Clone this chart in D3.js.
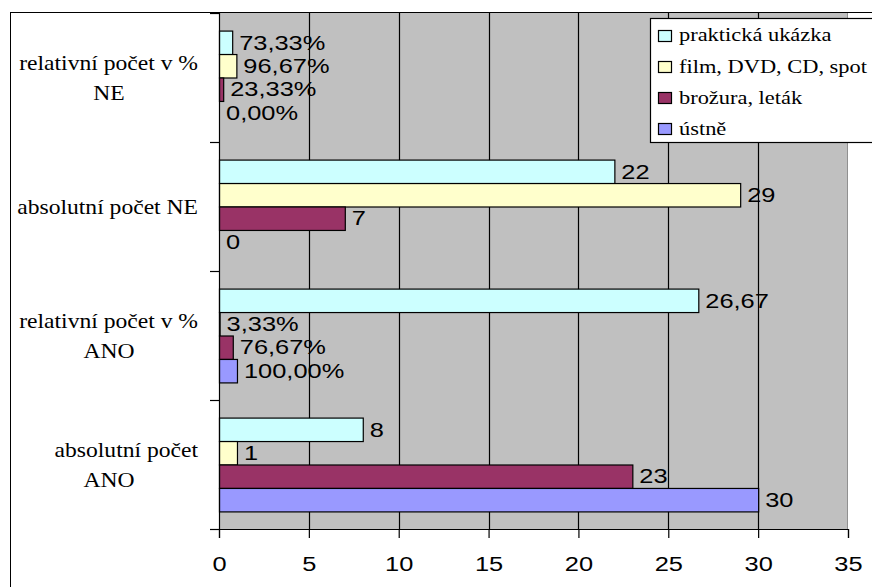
<!DOCTYPE html>
<html>
<head>
<meta charset="utf-8">
<script src="https://cdn.jsdelivr.net/npm/d3@7"></script>
<style>
  html, body { margin: 0; padding: 0; background: #fff; }
  svg { display: block; }
</style>
</head>
<body>
<svg id="chart" width="872" height="587"></svg>
<script>
// Categories, listed top to bottom as they appear on the vertical axis
const categories = [
  ["relativní počet v %", "NE"],
  ["absolutní počet NE"],
  ["relativní počet v %", "ANO"],
  ["absolutní počet", "ANO"]
];

// Series, listed top to bottom within each category group
const seriesNames = ["praktická ukázka", "film, DVD, CD, spot", "brožura, leták", "ústně"];
const seriesColors = ["#CCFFFF", "#FFFFCC", "#993366", "#9999FF"];

// Values per series, in the same category order as above
const praktickaValues = [0.7333, 22, 26.67, 8];
const filmValues      = [0.9667, 29, 0.0333, 1];
const brozuraValues   = [0.2333, 7, 0.7667, 23];
const ustneValues     = [0, 0, 1, 30];

// Number format of each value label: "pct" = percentage, "num" = plain number
const praktickaFormats = ["pct", "num", "num", "num"];
const filmFormats      = ["pct", "num", "pct", "num"];
const brozuraFormats   = ["pct", "num", "pct", "num"];
const ustneFormats     = ["pct", "num", "pct", "num"];

const xTicks = [0, 5, 10, 15, 20, 25, 30, 35];

const seriesValues = [praktickaValues, filmValues, brozuraValues, ustneValues];
const seriesFormats = [praktickaFormats, filmFormats, brozuraFormats, ustneFormats];

const SANS = "Liberation Sans";
const SERIF = "Liberation Serif";

// Horizontal stretch used for all text
const SX_SANS = 1.27;
const SX_SERIF = 1.18;

const fmtNum = v => {
  const s = (Math.round(v * 100) / 100).toString();
  return s.replace(".", ",");
};
const fmtPct = v => (v * 100).toFixed(2).replace(".", ",") + "%";

const svg = d3.select("#chart");

const plot = { left: 219, right: 848, top: 13, bottom: 529 };

const x = d3.scaleLinear().domain([0, 35]).range([plot.left, plot.right]);
const y = d3.scaleBand()
  .domain(categories.map((c, i) => i))
  .range([plot.top, plot.bottom])
  .padding(0);
const ySeries = d3.scaleBand()
  .domain(seriesNames.map((s, i) => i))
  .range([0, y.bandwidth()])
  .paddingInner(0)
  .paddingOuter(0.75);

// Outer chart border
svg.append("rect")
  .attr("x", 10.5).attr("y", 12.5)
  .attr("width", 900).attr("height", 600)
  .attr("fill", "none").attr("stroke", "#000").attr("stroke-width", 1);

// Plot area background
svg.append("rect")
  .attr("x", plot.left).attr("y", plot.top)
  .attr("width", plot.right - plot.left).attr("height", plot.bottom - plot.top)
  .attr("fill", "#C0C0C0");

// Vertical gridlines
svg.append("g")
  .selectAll("line")
  .data(xTicks.filter(t => t > 0 && t < 35))
  .join("line")
  .attr("x1", d => Math.round(x(d)) + 0.5).attr("x2", d => Math.round(x(d)) + 0.5)
  .attr("y1", plot.top).attr("y2", plot.bottom)
  .attr("stroke", "#000").attr("stroke-width", 1.2);

svg.append("line")
  .attr("x1", plot.right - 0.5).attr("x2", plot.right - 0.5)
  .attr("y1", plot.top).attr("y2", plot.bottom)
  .attr("stroke", "#909090").attr("stroke-width", 1);

// Bars
const groups = svg.append("g")
  .selectAll("g")
  .data(categories.map((c, ci) => ci))
  .join("g")
  .attr("transform", ci => `translate(0,${y(ci)})`);

groups.each(function (ci) {
  const g = d3.select(this);
  const rows = seriesNames.map((s, si) => ({
    si, value: seriesValues[si][ci], format: seriesFormats[si][ci]
  }));

  g.selectAll("rect")
    .data(rows.filter(r => r.value > 0))
    .join("rect")
    .attr("x", plot.left + 0.5)
    .attr("y", r => ySeries(r.si) + 0.5)
    .attr("width", r => x(r.value) - x(0))
    .attr("height", ySeries.bandwidth())
    .attr("fill", r => seriesColors[r.si])
    .attr("stroke", "#000")
    .attr("stroke-width", 1.2);

  g.selectAll("g.lbl")
    .data(rows)
    .join("g")
    .attr("class", "lbl")
    .attr("transform", r => `translate(${x(r.value) + 7},${ySeries(r.si) + ySeries.bandwidth() / 2})`)
    .append("text")
    .style("font-family", SANS)
    .style("font-size", "20px")
    .attr("transform", `scale(${SX_SANS},1)`)
    .attr("dy", "0.36em")
    .attr("fill", "#000")
    .text(r => r.format === "pct" ? fmtPct(r.value) : fmtNum(r.value));
});

// Bottom axis
const xAxis = d3.axisBottom(x)
  .tickValues(xTicks)
  .tickSize(9)
  .tickPadding(19)
  .tickFormat(d3.format("d"));

const xg = svg.append("g")
  .attr("transform", `translate(0,${plot.bottom})`)
  .call(xAxis);
xg.select(".domain").attr("stroke", "#000").attr("stroke-width", 1.2);
xg.selectAll(".tick line").attr("stroke", "#000").attr("stroke-width", 1.2);
xg.selectAll(".tick text")
  .style("font-family", SANS)
  .style("font-size", "20px")
  .attr("fill", "#000")
  .attr("transform", `scale(${SX_SANS},1)`);

// Left axis line with ticks at category boundaries
svg.append("line")
  .attr("x1", plot.left + 0.5).attr("x2", plot.left + 0.5)
  .attr("y1", plot.top).attr("y2", plot.bottom)
  .attr("stroke", "#000").attr("stroke-width", 1.2);

const bounds = categories.map((c, i) => y(i)).concat([plot.bottom]);
svg.append("g")
  .selectAll("line")
  .data(bounds)
  .join("line")
  .attr("x1", plot.left - 9).attr("x2", plot.left)
  .attr("y1", d => Math.round(d) + 0.5).attr("y2", d => Math.round(d) + 0.5)
  .attr("stroke", "#000").attr("stroke-width", 1.2);

// Category labels
const catG = svg.append("g");
categories.forEach((lines, ci) => {
  const cy = y(ci) + y.bandwidth() / 2;
  const lh = 30;
  lines.forEach((line, li) => {
    const ly = cy + (li - (lines.length - 1) / 2) * lh;
    const anchorEnd = li === 0;
    catG.append("g")
      .attr("transform", `translate(${anchorEnd ? 198 : 109},${ly})`)
      .append("text")
      .style("font-family", SERIF)
      .style("font-size", "20px")
      .attr("transform", `scale(${SX_SERIF},1)`)
      .attr("text-anchor", anchorEnd ? "end" : "middle")
      .attr("dy", "0.35em")
      .attr("fill", "#000")
      .text(line);
  });
});

// Legend
const legend = svg.append("g");
legend.append("rect")
  .attr("x", 650.5).attr("y", 18.5)
  .attr("width", 240).attr("height", 124)
  .attr("fill", "#fff").attr("stroke", "#000").attr("stroke-width", 1.2);

seriesNames.forEach((name, i) => {
  const ly = 35 + i * 31.3;
  legend.append("rect")
    .attr("x", 658.5).attr("y", Math.round(ly - 5.5) + 0.5)
    .attr("width", 13).attr("height", 11)
    .attr("fill", seriesColors[i]).attr("stroke", "#000").attr("stroke-width", 1.2);
  legend.append("g")
    .attr("transform", `translate(679,${ly})`)
    .append("text")
    .style("font-family", SERIF)
    .style("font-size", "19px")
    .attr("transform", `scale(${SX_SERIF},1)`)
    .attr("dy", "0.33em")
    .attr("fill", "#000")
    .text(name);
});
</script>
</body>
</html>
